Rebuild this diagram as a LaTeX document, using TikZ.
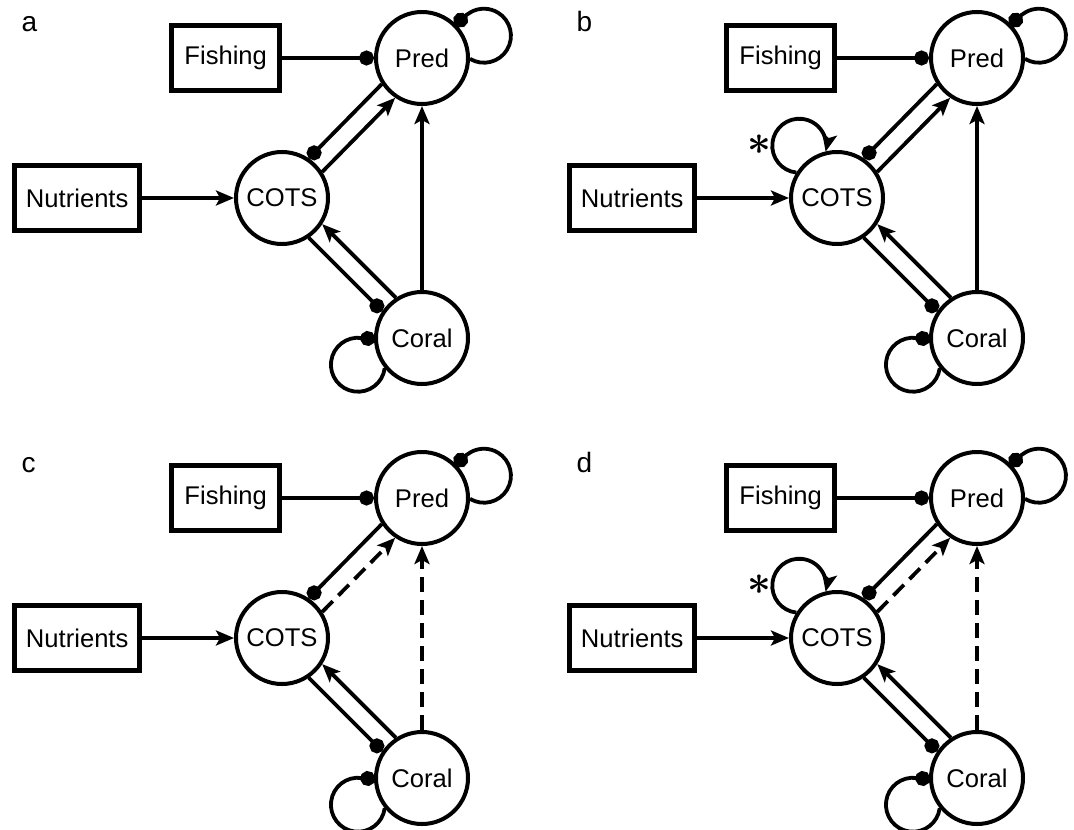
\documentclass[tikz,border=0pt]{standalone}
\usepackage{fontspec}
\setmainfont{Liberation Sans}
\usepackage{tikz}
\usetikzlibrary{arrows.meta,positioning}

\tikzset{blob/.tip={Circle[length=7.5pt]}}

\begin{document}
\begin{tikzpicture}[x=0.5pt,y=0.5pt,>={Stealth[length=9pt,width=7.5pt,inset=2pt]},
                    line width=1.9pt,node distance=46pt]
\tikzstyle{species}=[circle,draw,fill=white,line width=2pt,minimum size=46pt,inner sep=0pt]
\tikzstyle{driver}=[rectangle,draw,line width=2.3pt,minimum height=32.5pt,inner sep=2pt]
\tikzstyle{weak}=[dash pattern=on 7.5pt off 4pt]
\tikzstyle{panel}=[anchor=base west,font=\fontsize{14pt}{16pt}\selectfont]
\tikzstyle{star}=[font=\fontsize{21pt}{21pt}\selectfont\boldmath,inner sep=0pt]
\tikzset{font=\fontsize{12.8pt}{15pt}\selectfont}

\useasboundingbox (0,0) rectangle (1074,-829);

%% panel a
\begin{scope}
        \node[panel]                          (la)  at (13,-32)    {a};
        \node[species]                        (Pa)  at (422,-58)   {Pred};
        \node[species]                        (Ta)  at (282,-198)  {COTS};
        \node[species]                        (Ca)  at (422,-338)  {Coral};
        \node[driver,minimum width=54pt]      (Fa)  [left=of Pa]   {Fishing};
        \node[driver,minimum width=62.5pt]    (Na)  [left=of Ta]   {Nutrients};

        \draw[-blob] (Fa) -- (Pa);
        \draw[->]    (Na) -- (Ta);
        \draw[->]    (Ca) -- (Pa);
        \draw[-blob] (Pa.213.7) -- (Ta.56.3);
        \draw[->]    (Ta.33.7) -- (Pa.236.3);
        \draw[->]    (Ca.123.7) -- (Ta.-33.7);
        \draw[-blob] (Ta.-56.3) -- (Ca.146.3);
        \draw[-blob] (Pa.-1.5) arc[start angle=238.9,end angle=521.6,radius=13.5pt];
        \draw[-blob] (Ca.219.9) arc[start angle=-7.4,end angle=-306,radius=13.5pt];
\end{scope}

%% panel b
\begin{scope}[shift={(555,0)}]
        \node[panel]                          (lb)  at (13,-32)    {b};
        \node[species]                        (Pb)  at (422,-58)   {Pred};
        \node[species]                        (Tb)  at (282,-198)  {COTS};
        \node[species]                        (Cb)  at (422,-338)  {Coral};
        \node[driver,minimum width=54pt]      (Fb)  [left=of Pb]   {Fishing};
        \node[driver,minimum width=62.5pt]    (Nb)  [left=of Tb]   {Nutrients};
        \node[star]                           (sb)  at (204,-145)  {$\ast$};

        \draw[-blob] (Fb) -- (Pb);
        \draw[->]    (Nb) -- (Tb);
        \draw[->]    (Cb) -- (Pb);
        \draw[-blob] (Pb.213.7) -- (Tb.56.3);
        \draw[->]    (Tb.33.7) -- (Pb.236.3);
        \draw[->]    (Cb.123.7) -- (Tb.-33.7);
        \draw[-blob] (Tb.-56.3) -- (Cb.146.3);
        \draw[-blob] (Pb.-1.5) arc[start angle=238.9,end angle=521.6,radius=13.5pt];
        \draw[-blob] (Cb.219.9) arc[start angle=-7.4,end angle=-306,radius=13.5pt];
        \draw[->]    (Tb.148.3) arc[start angle=263.7,end angle=-12.8,radius=13.5pt];
\end{scope}

%% panel c
\begin{scope}[shift={(0,-440)}]
        \node[panel]                          (lc)  at (13,-32)    {c};
        \node[species]                        (Pc)  at (422,-58)   {Pred};
        \node[species]                        (Tc)  at (282,-198)  {COTS};
        \node[species]                        (Cc)  at (422,-338)  {Coral};
        \node[driver,minimum width=54pt]      (Fc)  [left=of Pc]   {Fishing};
        \node[driver,minimum width=62.5pt]    (Nc)  [left=of Tc]   {Nutrients};

        \draw[-blob] (Fc) -- (Pc);
        \draw[->]    (Nc) -- (Tc);
        \draw[->,weak] (Cc) -- (Pc);
        \draw[-blob] (Pc.213.7) -- (Tc.56.3);
        \draw[->,weak] (Tc.33.7) -- (Pc.236.3);
        \draw[->]    (Cc.123.7) -- (Tc.-33.7);
        \draw[-blob] (Tc.-56.3) -- (Cc.146.3);
        \draw[-blob] (Pc.-1.5) arc[start angle=238.9,end angle=521.6,radius=13.5pt];
        \draw[-blob] (Cc.219.9) arc[start angle=-7.4,end angle=-306,radius=13.5pt];
\end{scope}

%% panel d
\begin{scope}[shift={(555,-440)}]
        \node[panel]                          (ld)  at (13,-32)    {d};
        \node[species]                        (Pd)  at (422,-58)   {Pred};
        \node[species]                        (Td)  at (282,-198)  {COTS};
        \node[species]                        (Cd)  at (422,-338)  {Coral};
        \node[driver,minimum width=54pt]      (Fd)  [left=of Pd]   {Fishing};
        \node[driver,minimum width=62.5pt]    (Nd)  [left=of Td]   {Nutrients};
        \node[star]                           (sd)  at (204,-145)  {$\ast$};

        \draw[-blob] (Fd) -- (Pd);
        \draw[->]    (Nd) -- (Td);
        \draw[->,weak] (Cd) -- (Pd);
        \draw[-blob] (Pd.213.7) -- (Td.56.3);
        \draw[->,weak] (Td.33.7) -- (Pd.236.3);
        \draw[->]    (Cd.123.7) -- (Td.-33.7);
        \draw[-blob] (Td.-56.3) -- (Cd.146.3);
        \draw[-blob] (Pd.-1.5) arc[start angle=238.9,end angle=521.6,radius=13.5pt];
        \draw[-blob] (Cd.219.9) arc[start angle=-7.4,end angle=-306,radius=13.5pt];
        \draw[->]    (Td.148.3) arc[start angle=263.7,end angle=-12.8,radius=13.5pt];
\end{scope}

\end{tikzpicture}
\end{document}
